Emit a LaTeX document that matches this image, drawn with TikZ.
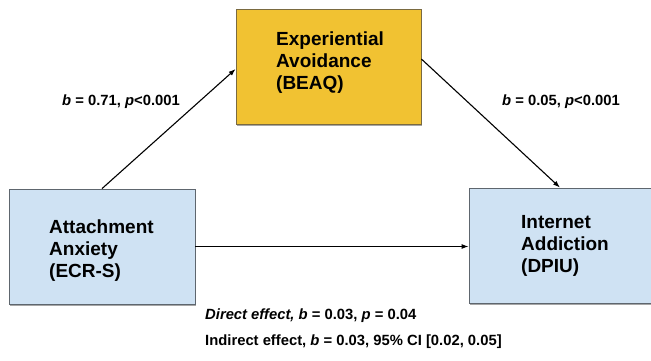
\documentclass[tikz,border=0pt]{standalone}
\usepackage{fontspec}
\setmainfont{Liberation Sans}
\usetikzlibrary{arrows.meta,shadows}
\definecolor{evyellow}{HTML}{F1C232}
\definecolor{evblue}{HTML}{CFE2F3}
\definecolor{yborder}{HTML}{7A6A40}
\definecolor{bborder}{HTML}{5E666E}
\begin{document}
\begin{tikzpicture}[x=1pt,y=-1pt,
  box/.style={rectangle,inner sep=0pt,minimum height=115pt,line width=0.8pt,
    drop shadow={shadow xshift=1pt,shadow yshift=-1.5pt,opacity=0.35,fill=black}},
  ybox/.style={box,fill=evyellow,draw=yborder,minimum width=185pt},
  bbox/.style={box,fill=evblue,draw=bborder,minimum width=186pt},
  boxtext/.style={anchor=west,align=left,inner sep=0pt,font=\fontsize{19pt}{22pt}\selectfont\bfseries},
  lbl/.style={anchor=west,inner sep=0pt,font=\fontsize{14.8pt}{17pt}\selectfont\bfseries},
  conn/.style={line width=1.1pt,-{Latex[length=7pt,width=5pt]}}]
\clip (0,0) rectangle (651,360);
\fill[white] (0,0) rectangle (651,360);
\node[ybox] (E) at (328.5,66.5) {};
\node[bbox] (A) at (102,246.5) {};
\node[bbox] (D) at (562,245.5) {};
\node[boxtext] (Et) at (276,62.5) {Experiential\\Avoidance\\(BEAQ)};
\node[boxtext] (At) at (49,251) {Attachment\\Anxiety\\(ECR-S)};
\node[boxtext] (Dt) at (521,246) {Internet\\Addiction\\(DPIU)};
\draw[conn] (A.north) -- ([yshift=-2.5pt]E.west);
\draw[conn] ([yshift=7.5pt]E.east) -- ([xshift=-2pt]D.north);
\draw[conn] (A.east) -- (A.east -| D.west);
\node[lbl] (l1) at (62,102) {\textit{b} = 0.71, \textit{p}<0.001};
\node[lbl] (l2) at (502,102) {\textit{b} = 0.05, \textit{p}<0.001};
\node[lbl] (l3) at (205,316) {\textit{Direct effect, b} = 0.03, \textit{p} = 0.04};
\node[lbl] (l4) at (205,342) {Indirect effect, \textit{b} = 0.03, 95\% CI [0.02, 0.05]};
\end{tikzpicture}
\end{document}
